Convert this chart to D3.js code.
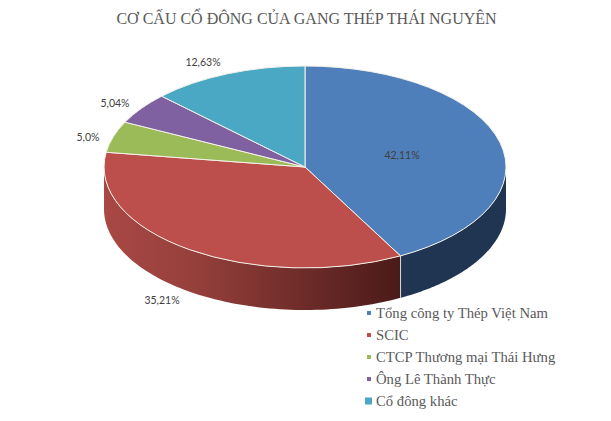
<!DOCTYPE html>
<html lang="vi">
<head>
<meta charset="utf-8">
<title>Cơ cấu cổ đông</title>
<script src="https://cdn.jsdelivr.net/npm/d3@7"></script>
<style>
  html, body { margin: 0; padding: 0; background: #fff; }
  svg { display: block; }
  .title { font: 16px "Liberation Serif", serif; fill: #595959; text-anchor: middle; }
  .legend text { font: 14.7px "Liberation Serif", serif; fill: #595959; }
  .pct { font: 10.5px Lato, "Open Sans", sans-serif; fill: #404040; text-anchor: middle; }
</style>
</head>
<body>
<svg id="chart" width="611" height="421"></svg>
<script>
const titleText = 'CƠ CẤU CỔ ĐÔNG CỦA GANG THÉP THÁI NGUYÊN';
const holders = ['Tổng công ty Thép Việt Nam', 'SCIC', 'CTCP Thương mại Thái Hưng', 'Ông Lê Thành Thực', 'Cổ đông khác'];
const shares = [42.11, 35.21, 5.0, 5.04, 12.63];
const shareLabels = ['42,11%', '35,21%', '5,0%', '5,04%', '12,63%'];
const colors = ['#4f7fba', '#bc4f4b', '#9bbb59', '#7f60a0', '#4aa8c4'];

// ellipse of the tilted pie
const cx = 305, cy = 167, rx = 201, ry = 101, depth = 42;

// label centres, relative to the pie centre
const labelOffsets = [[97, -12], [-143, 133], [-217, -30], [-190, -64], [-102, -105]];

const svg = d3.select('#chart');

svg.append('text')
  .attr('class', 'title')
  .attr('x', 306.5)
  .attr('y', 24)
  .text(titleText);

const slices = d3.pie().sort(null).value((d) => d)(shares);

const defs = svg.append('defs');
const sideFill = defs.append('linearGradient')
  .attr('id', 'side-red')
  .attr('gradientUnits', 'userSpaceOnUse')
  .attr('x1', cx - rx).attr('x2', 401)
  .attr('y1', 0).attr('y2', 0);
sideFill.append('stop').attr('offset', 0).attr('stop-color', '#a94845');
sideFill.append('stop').attr('offset', 0.3).attr('stop-color', '#96403c');
sideFill.append('stop').attr('offset', 1).attr('stop-color', '#4a1a18');

const px = (a) => cx + rx * Math.sin(a);
const py = (a) => cy - ry * Math.cos(a);

// outer wall, only the front half of the ellipse can be seen
const wall = d3.area()
  .x((a) => px(a))
  .y0((a) => py(a))
  .y1((a) => py(a) + depth);

function frontAngles(s) {
  const from = Math.max(s.startAngle, Math.PI / 2);
  const to = Math.min(s.endAngle, Math.PI * 1.5);
  if (from >= to) return [];
  const steps = 80;
  return d3.range(steps + 1).map((i) => from + (to - from) * i / steps);
}

const sideColors = ['#1f3552', 'url(#side-red)', '#6f8a3f', '#5a4475', '#31788e'];

svg.append('g')
  .selectAll('path')
  .data(slices)
  .join('path')
  .attr('d', (d) => {
    const angles = frontAngles(d);
    return angles.length ? wall(angles) : null;
  })
  .attr('fill', (d, i) => sideColors[i]);

// seam between the blue and red walls
svg.append('line')
  .attr('x1', px(slices[0].endAngle)).attr('x2', px(slices[0].endAngle))
  .attr('y1', py(slices[0].endAngle)).attr('y2', py(slices[0].endAngle) + depth)
  .attr('stroke', '#d9d9d9')
  .attr('stroke-width', 1);

const arc = d3.arc().innerRadius(0).outerRadius(1);

svg.append('g')
  .attr('transform', `translate(${cx},${cy}) scale(${rx},${ry})`)
  .selectAll('path')
  .data(slices)
  .join('path')
  .attr('d', arc)
  .attr('fill', (d, i) => colors[i])
  .attr('stroke', '#f4f1ea')
  .attr('stroke-width', 1)
  .attr('stroke-linejoin', 'round')
  .attr('vector-effect', 'non-scaling-stroke');

svg.append('g')
  .selectAll('text')
  .data(shareLabels)
  .join('text')
  .attr('class', 'pct')
  .attr('x', (d, i) => cx + labelOffsets[i][0])
  .attr('y', (d, i) => cy + labelOffsets[i][1])
  .attr('dy', '0.35em')
  .text((d) => d);

const legendY = d3.scalePoint().domain(holders).range([313, 401]);

const legend = svg.append('g')
  .attr('class', 'legend')
  .selectAll('g')
  .data(holders)
  .join('g')
  .attr('transform', (d) => `translate(0,${legendY(d)})`);

legend.append('rect')
  .attr('x', (d, i) => (i === 4 ? 365 : 367))
  .attr('y', (d, i) => (i === 4 ? -3.5 : -2))
  .attr('width', (d, i) => (i === 4 ? 7 : 4))
  .attr('height', (d, i) => (i === 4 ? 7 : 4))
  .attr('fill', (d, i) => colors[i]);

legend.append('text')
  .attr('x', 376)
  .attr('dy', '0.32em')
  .text((d) => d);
</script>
</body>
</html>
